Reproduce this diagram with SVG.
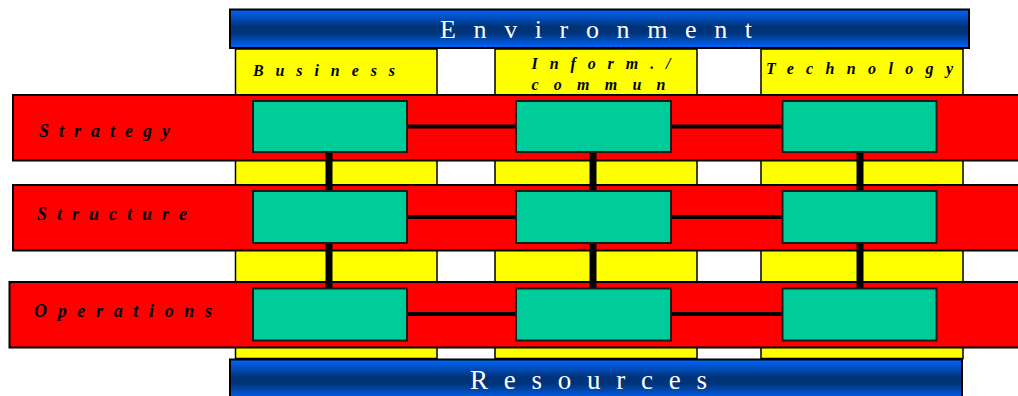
<svg xmlns="http://www.w3.org/2000/svg" width="1018" height="396" viewBox="0 0 1018 396">
<defs>
<linearGradient id="blue" x1="0" y1="0" x2="0" y2="1">
<stop offset="0" stop-color="#0066ff"/>
<stop offset="0.45" stop-color="#003377"/>
<stop offset="0.6" stop-color="#003377"/>
<stop offset="1" stop-color="#0066ff"/>
</linearGradient>
</defs>
<style>
.col{fill:#ffff00;stroke:#000;stroke-width:1.5}
.row{fill:#ff0000;stroke:#000;stroke-width:2}
.box{fill:#00cc99;stroke:#1a1a1a;stroke-width:2}
.bar{fill:url(#blue);stroke:#000;stroke-width:2}
.hl{stroke:#000;stroke-width:4;fill:none}
.vl{stroke:#000;stroke-width:7;fill:none}
.lbl{font-family:"Liberation Serif",serif;font-weight:bold;font-style:italic;fill:#000}
.big{font-family:"Liberation Serif",serif;fill:#fff}
</style>
<rect width="1018" height="396" fill="#fff"/>
<g id="columns">
<g id="col-business"><rect class="col" x="235.5" y="49" width="201.5" height="309.5"/>
<text class="lbl" x="253" y="76" font-size="16" textLength="142" lengthAdjust="spacing">Business</text></g>
<g id="col-inform"><rect class="col" x="495" y="49" width="202" height="309.5"/>
<text class="lbl" x="531.5" y="68.5" font-size="16" textLength="139" lengthAdjust="spacing">Inform./</text>
<text class="lbl" x="531.5" y="90" font-size="16" textLength="134" lengthAdjust="spacing">commun</text></g>
<g id="col-technology"><rect class="col" x="761" y="49" width="202" height="309.5"/>
<text class="lbl" x="766" y="73.5" font-size="16" textLength="187" lengthAdjust="spacing">Technology</text></g>
</g>
<g id="environment"><rect class="bar" x="230" y="9.5" width="739" height="38.5"/>
<text class="big" x="440" y="38" font-size="26" textLength="312" lengthAdjust="spacing">Environment</text></g>
<g id="resources"><rect class="bar" x="230" y="359.5" width="732" height="40"/>
<text class="big" x="470" y="389" font-size="27" textLength="237" lengthAdjust="spacing">Resources</text></g>
<g id="row-strategy"><rect class="row" x="13" y="95" width="1010" height="65.5"/>
<text class="lbl" x="39" y="136.5" font-size="18" textLength="131" lengthAdjust="spacing">Strategy</text></g>
<g id="row-structure"><rect class="row" x="13" y="185" width="1010" height="65.5"/>
<text class="lbl" x="37" y="220" font-size="18" textLength="150" lengthAdjust="spacing">Structure</text></g>
<g id="row-operations"><rect class="row" x="9.5" y="282" width="1015" height="65.5"/>
<text class="lbl" x="34" y="317" font-size="18" textLength="178" lengthAdjust="spacing">Operations</text></g>
<g id="connectors">
<line class="hl" x1="407" y1="126.5" x2="516" y2="126.5"/>
<line class="hl" x1="671" y1="126.5" x2="782" y2="126.5"/>
<line class="hl" x1="407" y1="217" x2="516" y2="217"/>
<line class="hl" x1="671" y1="217" x2="782" y2="217"/>
<line class="hl" x1="407" y1="314" x2="516" y2="314"/>
<line class="hl" x1="671" y1="314" x2="782" y2="314"/>
<line class="vl" x1="329" y1="152" x2="329" y2="191"/>
<line class="vl" x1="329" y1="243" x2="329" y2="288"/>
<line class="vl" x1="593" y1="152" x2="593" y2="191"/>
<line class="vl" x1="593" y1="243" x2="593" y2="288"/>
<line class="vl" x1="860" y1="152" x2="860" y2="191"/>
<line class="vl" x1="860" y1="243" x2="860" y2="288"/>
</g>
<g id="box-strategy-business"><rect class="box" x="253" y="101" width="154" height="51"/></g>
<g id="box-strategy-inform"><rect class="box" x="516" y="101" width="155" height="51"/></g>
<g id="box-strategy-technology"><rect class="box" x="782.5" y="101" width="154" height="51"/></g>
<g id="box-structure-business"><rect class="box" x="253" y="191" width="154" height="52"/></g>
<g id="box-structure-inform"><rect class="box" x="516" y="191" width="155" height="52"/></g>
<g id="box-structure-technology"><rect class="box" x="782.5" y="191" width="154" height="52"/></g>
<g id="box-operations-business"><rect class="box" x="253" y="288.5" width="154" height="52"/></g>
<g id="box-operations-inform"><rect class="box" x="516" y="288.5" width="155" height="52"/></g>
<g id="box-operations-technology"><rect class="box" x="782.5" y="288.5" width="154" height="52"/></g>
</svg>
